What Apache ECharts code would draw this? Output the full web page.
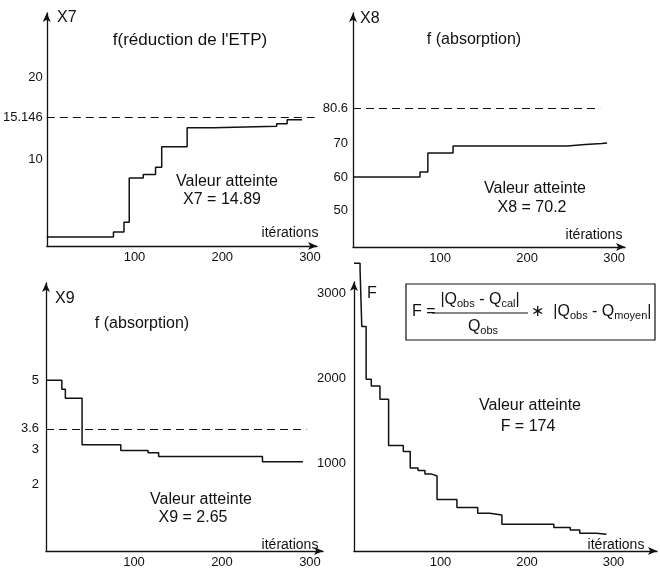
<!DOCTYPE html>
<html>
<head>
<meta charset="utf-8">
<script src="https://cdn.jsdelivr.net/npm/echarts@6/dist/echarts.min.js"></script>
<style>
  html, body { margin: 0; padding: 0; background: #fff; }
  #chart { width: 660px; height: 569px; }
</style>
</head>
<body>
<div id="chart"></div>
<script>
// X7 : f(réduction de l'ETP)
const iterX7 = [0, 76, 88, 94, 110, 124, 131, 160, 190, 262, 274, 291];
const valX7 = [0.6, 1.2, 2.4, 7.8, 8.2, 9.1, 11.6, 13.9, 14.1, 14.4, 14.89, 14.89];
const refX7 = 15.146;
const refEndX7 = 308;
const ticksX7 = [10, 15.146, 20];

// X8 : f(absorption)
const iterX8 = [0, 77, 86, 115, 246, 267, 286, 292];
const valX8 = [60, 61.5, 67.2, 69.3, 69.7, 70.0, 70.2, 70.2];
const refX8 = 80.6;
const refEndX8 = 284;
const ticksX8 = [50, 60, 70, 80.6];

// X9 : f(absorption)
const iterX9 = [0, 18, 22, 41, 85, 116, 128, 246, 292];
const valX9 = [5, 4.74, 4.48, 3.14, 2.97, 2.91, 2.80, 2.65, 2.65];
const refX9 = 3.6;
const refEndX9 = 296;
const ticksX9 = [2, 3, 3.6, 5];

// F : critère
const iterF = [0, 7, 9, 14, 20, 30, 40, 57, 65, 74, 82, 90, 96, 119, 143, 157, 171, 231, 250, 261, 280, 292];
const valF = [3349, 3276, 2608, 1988, 1910, 1756, 1213, 1143, 950, 919, 878, 855, 581, 486, 419, 399, 290, 252, 224, 186, 174, 174];
const ticksF = [1000, 2000, 3000];

const iterTicks = [100, 200, 300];

const FONT = '"Liberation Sans", Arial, "DejaVu Sans", sans-serif';
const INK = '#111';

const grids = [
  { left: 46, top: 13, width: 271, height: 233 },
  { left: 353, top: 13, width: 272, height: 234 },
  { left: 46, top: 283, width: 277, height: 270 },
  { left: 354, top: 282, width: 303, height: 271 }
];
const xMax = [308, 312.6, 314.8, 350.3];
const yMin = [-0.5, 39.1, 0.07, -23];
const yMax = [27.9, 109, 7.81, 3128];
const yTicks = [ticksX7, ticksX8, ticksX9, ticksF];
const yMargin = [4, 5, 7, 8];

const axisLine = {
  onZero: false,
  symbol: ['none', 'arrow'],
  symbolSize: [6, 9],
  lineStyle: { color: INK, width: 1.3 }
};

const xAxes = grids.map((g, i) => ({
  type: 'value', gridIndex: i, min: 0, max: xMax[i],
  axisLine: axisLine, axisTick: { show: false }, splitLine: { show: false },
  axisLabel: {
    customValues: iterTicks, margin: 5, color: INK, fontSize: 13, fontFamily: FONT,
    formatter: v => String(v)
  }
}));

const yAxes = grids.map((g, i) => ({
  type: 'value', gridIndex: i, min: yMin[i], max: yMax[i],
  axisLine: axisLine, axisTick: { show: false }, splitLine: { show: false },
  axisLabel: {
    customValues: yTicks[i], margin: yMargin[i], color: INK, fontSize: 13, fontFamily: FONT,
    formatter: v => String(v)
  }
}));

function refLine(level, end) {
  return {
    silent: true,
    symbol: ['none', 'none'],
    label: { show: false },
    lineStyle: { type: [8, 5], color: INK, width: 1.2 },
    data: [[{ coord: [0, level] }, { coord: [end, level] }]]
  };
}

function curve(i, iters, vals, ref, refEnd) {
  const s = {
    type: 'line', xAxisIndex: i, yAxisIndex: i, step: 'end',
    symbol: 'none', clip: false,
    lineStyle: { color: INK, width: 1.5 },
    data: iters.map((x, k) => [x, vals[k]])
  };
  if (ref !== undefined) s.markLine = refLine(ref, refEnd);
  return s;
}

function txt(x, y, text, size, align) {
  return {
    type: 'text', x: x, y: y,
    style: {
      text: text, fill: INK, font: size + 'px ' + FONT,
      textAlign: align || 'center', textVerticalAlign: 'middle'
    }
  };
}

const richF = {
  m: { fontSize: 16, fontFamily: FONT, color: INK },
  s: { fontSize: 11, fontFamily: FONT, color: INK, padding: [7, 0, 0, 0] }
};
function richTxt(x, y, text, align) {
  return {
    type: 'text', x: x, y: y,
    style: {
      text: text, rich: richF, fill: INK, font: '16px ' + FONT,
      textAlign: align || 'center', textVerticalAlign: 'middle'
    }
  };
}

const graphics = [
  // panel X7
  txt(57, 18, 'X7', 16, 'left'),
  txt(190, 40, "f(réduction de l'ETP)", 17),
  txt(227, 182, 'Valeur atteinte', 16),
  txt(222, 200, 'X7 = 14.89', 16),
  txt(290, 233, 'itérations', 14),
  // panel X8
  txt(360, 19, 'X8', 16, 'left'),
  txt(474, 40, 'f (absorption)', 16),
  txt(535, 189, 'Valeur atteinte', 16),
  txt(532, 208, 'X8 = 70.2', 16),
  txt(594, 235, 'itérations', 14),
  // panel X9
  txt(55, 299, 'X9', 16, 'left'),
  txt(142, 324, 'f (absorption)', 16),
  txt(201, 500, 'Valeur atteinte', 16),
  txt(193, 518, 'X9 = 2.65', 16),
  txt(290, 545, 'itérations', 14),
  // panel F
  txt(372, 294, 'F', 16),
  txt(530, 406, 'Valeur atteinte', 16),
  txt(528, 427, 'F = 174', 16),
  txt(616, 545, 'itérations', 14),
  // formula box
  {
    type: 'rect', shape: { x: 406, y: 284, width: 249, height: 56 },
    style: { fill: 'none', stroke: INK, lineWidth: 1.2 }
  },
  {
    type: 'line', shape: { x1: 432, y1: 313, x2: 528, y2: 313 },
    style: { stroke: INK, lineWidth: 1.2 }
  },
  txt(412, 312, 'F =', 16, 'left'),
  richTxt(480, 300, '{m||Q}{s|obs}{m| - Q}{s|cal}{m||}'),
  richTxt(483, 327, '{m|Q}{s|obs}'),
  richTxt(531, 312, '{m|\u2217  |Q}{s|obs}{m| - Q}{s|moyen}{m||}', 'left')
];

const chart = echarts.init(document.getElementById('chart'), null, { renderer: 'canvas' });
chart.setOption({
  animation: false,
  backgroundColor: '#fff',
  grid: grids,
  xAxis: xAxes,
  yAxis: yAxes,
  series: [
    curve(0, iterX7, valX7, refX7, refEndX7),
    curve(1, iterX8, valX8, refX8, refEndX8),
    curve(2, iterX9, valX9, refX9, refEndX9),
    curve(3, iterF, valF)
  ],
  graphic: graphics
});
</script>
</body>
</html>
